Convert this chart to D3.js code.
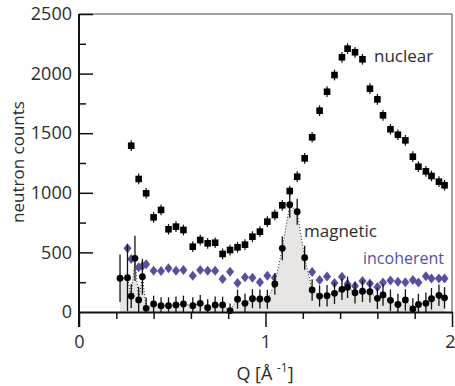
<!DOCTYPE html>
<html>
<head>
<meta charset="utf-8">
<script src="https://cdn.jsdelivr.net/npm/d3@7/dist/d3.min.js"></script>
<style>
  body { margin: 0; background: #fff; }
  svg { font-family: "Open Sans", sans-serif; }
  .axis text { font-size: 18px; fill: #2b2b2b; font-family: "Open Sans", sans-serif; }
  .axis path, .axis line { stroke: #111; }
</style>
</head>
<body>
<script>
  // nuclear (squares)
  var nucQ = [0.28,0.32,0.36,0.40,0.44,0.48,0.52,0.56,0.61,0.65,0.69,0.73,0.77,0.81,0.85,0.89,0.93,0.97,
              1.01,1.05,1.09,1.13,1.17,1.21,1.25,1.29,1.33,1.37,1.41,1.44,1.48,1.52,1.56,1.60,1.63,1.67,
              1.71,1.75,1.79,1.82,1.86,1.89,1.93,1.96];
  var nuclear = [1395,1116,996,794,856,694,716,688,548,604,576,581,487,520,543,565,632,674,
                 758,814,895,1015,1135,1289,1466,1689,1848,1988,2137,2209,2179,2120,1873,1784,1650,1533,
                 1487,1440,1303,1219,1180,1141,1093,1063];
  var nucErr = 45;

  // magnetic (circles + shaded area)
  var magQ = [0.22,0.26,0.28,0.30,0.32,0.34,0.36,0.40,0.44,0.48,0.52,0.56,0.61,0.65,0.69,0.73,0.77,0.81,
              0.85,0.89,0.93,0.97,1.01,1.05,1.09,1.13,1.17,1.21,1.25,1.29,1.33,1.37,1.41,1.44,1.48,1.52,
              1.56,1.60,1.63,1.67,1.71,1.75,1.79,1.82,1.86,1.89,1.93,1.96];
  var magnetic = [283,288,134,450,101,296,31,67,53,53,59,67,53,73,36,59,59,11,
                  107,73,112,109,107,235,534,900,841,455,185,134,137,157,190,207,162,174,
                  170,115,143,98,63,101,25,63,73,111,140,119];
  var magErr = [200,280,100,190,110,150,90,70,70,70,70,70,70,70,70,70,70,60,
                80,80,80,80,80,90,100,110,110,100,90,90,90,90,90,90,90,90,
                90,90,90,90,90,90,90,90,90,90,90,90];

  // incoherent (diamonds)
  var incQ = [0.26,0.28,0.32,0.34,0.36,0.40,0.44,0.48,0.52,0.56,0.61,0.65,0.69,0.73,0.77,0.81,0.85,0.89,
              0.93,0.97,1.01,1.05,1.09,1.13,1.17,1.21,1.25,1.29,1.33,1.37,1.41,1.44,1.48,1.52,1.56,1.60,
              1.63,1.67,1.71,1.75,1.79,1.82,1.86,1.89,1.93,1.96];
  var incoherent = [534,445,375,386,400,347,344,366,347,352,305,352,347,347,277,338,243,291,
                    288,249,305,288,290,300,290,300,336,268,298,243,296,235,218,260,239,210,
                    247,264,253,250,268,247,299,281,281,281];
  var incErr = 25;

  var xTicks = [0, 1, 2];
  var xMinor = [0.2, 0.4, 0.6, 0.8, 1.2, 1.4, 1.6, 1.8];
  var yTicks = [0, 500, 1000, 1500, 2000, 2500];
  var yMinor = [250, 750, 1250, 1750, 2250];

  var width = 455, height = 386;
  var purple = "#5a4ea3";

  var x = d3.scaleLinear().domain([0, 2]).range([79, 452]);
  var y = d3.scaleLinear().domain([0, 2500]).range([312, 14]);

  var svg = d3.select("body").append("svg")
      .attr("width", width)
      .attr("height", height);

  var nuc = nucQ.map(function(q, i) { return [q, nuclear[i]]; });
  var mag = magQ.map(function(q, i) { return [q, magnetic[i], magErr[i]]; });
  var inc = incQ.map(function(q, i) { return [q, incoherent[i]]; });

  // frame (top + right)
  svg.append("line")
      .attr("x1", x(0)).attr("x2", x(2))
      .attr("y1", y(2500)).attr("y2", y(2500))
      .attr("stroke", "#444").attr("stroke-width", 1);
  svg.append("line")
      .attr("x1", x(2)).attr("x2", x(2))
      .attr("y1", y(2500)).attr("y2", y(0))
      .attr("stroke", "#444").attr("stroke-width", 1);

  // incoherent diamonds (behind the magnetic area)
  var gi = svg.append("g");
  gi.selectAll("line").data(inc).enter().append("line")
      .attr("x1", function(d) { return x(d[0]); })
      .attr("x2", function(d) { return x(d[0]); })
      .attr("y1", function(d) { return y(d[1] - incErr); })
      .attr("y2", function(d) { return y(d[1] + incErr); })
      .attr("stroke", purple).attr("stroke-width", 1.2);
  gi.selectAll("path").data(inc).enter().append("path")
      .attr("transform", function(d) { return "translate(" + x(d[0]) + "," + y(d[1]) + ")"; })
      .attr("d", "M0,-5L4,0L0,5L-4,0Z")
      .attr("fill", purple);

  // magnetic area
  var area = d3.area()
      .x(function(d) { return x(d[0]); })
      .y0(y(0))
      .y1(function(d) { return y(d[1]); });
  svg.append("path")
      .attr("d", area(mag))
      .attr("fill", "#e7e5e3");

  var line = d3.line()
      .x(function(d) { return x(d[0]); })
      .y(function(d) { return y(d[1]); });
  svg.append("path")
      .attr("d", line(mag))
      .attr("fill", "none")
      .attr("stroke", "#222")
      .attr("stroke-width", 1)
      .attr("stroke-dasharray", "1,2");

  var gm = svg.append("g");
  gm.selectAll("line").data(mag).enter().append("line")
      .attr("x1", function(d) { return x(d[0]); })
      .attr("x2", function(d) { return x(d[0]); })
      .attr("y1", function(d) { return y(Math.max(0, d[1] - d[2])); })
      .attr("y2", function(d) { return y(d[1] + d[2]); })
      .attr("stroke", "#111").attr("stroke-width", 1.3);
  gm.selectAll("circle").data(mag).enter().append("circle")
      .attr("cx", function(d) { return x(d[0]); })
      .attr("cy", function(d) { return y(d[1]); })
      .attr("r", 3.4)
      .attr("fill", "#000");

  // nuclear squares
  var gn = svg.append("g");
  gn.selectAll("line").data(nuc).enter().append("line")
      .attr("x1", function(d) { return x(d[0]); })
      .attr("x2", function(d) { return x(d[0]); })
      .attr("y1", function(d) { return y(d[1] - nucErr); })
      .attr("y2", function(d) { return y(d[1] + nucErr); })
      .attr("stroke", "#111").attr("stroke-width", 1.2);
  gn.selectAll("rect").data(nuc).enter().append("rect")
      .attr("x", function(d) { return x(d[0]) - 3.3; })
      .attr("y", function(d) { return y(d[1]) - 3.3; })
      .attr("width", 6.6)
      .attr("height", 6.6)
      .attr("fill", "#000");

  // axes
  svg.append("g")
      .attr("class", "axis")
      .attr("transform", "translate(" + x(0) + ",0)")
      .call(d3.axisLeft(y).tickValues(yMinor).tickSize(-7).tickSizeOuter(0).tickFormat(""))
      .call(function(g) { g.select(".domain").remove(); })
      .selectAll("line").attr("stroke-width", 1.5);

  svg.append("g")
      .attr("class", "axis")
      .attr("transform", "translate(" + x(0) + ",0)")
      .call(d3.axisLeft(y).tickValues(yTicks).tickSize(-14).tickSizeOuter(0).tickPadding(7).tickFormat(d3.format("d")))
      .call(function(g) {
        g.select(".domain").attr("stroke-width", 2).attr("d", "M0," + y(2500) + "V" + (y(0) + 15));
        g.selectAll("line").attr("stroke-width", 1.5);
        g.select(".tick:first-of-type line").remove();
      });

  svg.append("g")
      .attr("class", "axis")
      .attr("transform", "translate(0," + y(0) + ")")
      .call(d3.axisBottom(x).tickValues(xMinor).tickSize(7).tickSizeOuter(0).tickFormat(""))
      .call(function(g) { g.select(".domain").remove(); })
      .selectAll("line").attr("stroke-width", 1.5);

  svg.append("g")
      .attr("class", "axis")
      .attr("transform", "translate(0," + y(0) + ")")
      .call(d3.axisBottom(x).tickValues(xTicks).tickSize(15).tickSizeOuter(0).tickPadding(8).tickFormat(d3.format("d")))
      .call(function(g) {
        g.select(".domain").attr("stroke-width", 2);
        g.selectAll("line").attr("stroke-width", 1.5);
        // keep the last label inside the window
        g.select(".tick:last-of-type text").attr("text-anchor", "end").attr("dx", 3);
      });

  // axis titles
  svg.append("text")
      .attr("transform", "translate(24,162) rotate(-90)")
      .attr("text-anchor", "middle")
      .attr("font-size", 17)
      .attr("fill", "#2b2b2b")
      .text("neutron counts");

  var xl = svg.append("text")
      .attr("x", 265)
      .attr("y", 380)
      .attr("text-anchor", "middle")
      .attr("font-size", 18)
      .attr("fill", "#2b2b2b");
  xl.append("tspan").text("Q [Å ");
  xl.append("tspan").attr("font-size", 12).attr("dy", -8).text("-1");
  xl.append("tspan").attr("dy", 8).text("]");

  // series labels
  svg.append("text")
      .attr("x", 374).attr("y", 62)
      .attr("font-size", 17).attr("fill", "#2b2b2b")
      .text("nuclear");
  svg.append("text")
      .attr("x", 304).attr("y", 237)
      .attr("font-size", 17).attr("fill", "#2b2b2b")
      .text("magnetic");
  svg.append("text")
      .attr("x", 363).attr("y", 264)
      .attr("font-size", 16).attr("fill", purple)
      .text("incoherent");
</script>
</body>
</html>
